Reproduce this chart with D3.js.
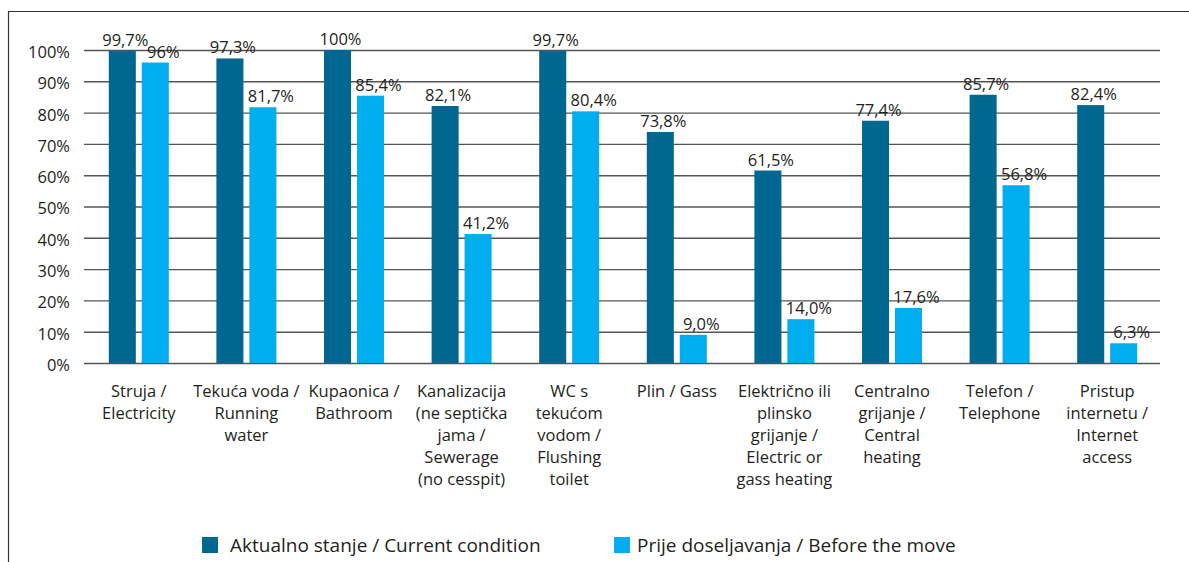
<!DOCTYPE html>
<html>
<head>
<meta charset="utf-8">
<script src="https://cdn.jsdelivr.net/npm/d3@7"></script>
<style>
    body { margin: 0; background: #fff; }
    svg text { font-family: 'Open Sans', sans-serif; fill: #231f20; }
</style>
</head>
<body>
<div></div>
<script>
const categories = [
    ['Struja /', 'Electricity'],
    ['Tekuća voda /', 'Running', 'water'],
    ['Kupaonica /', 'Bathroom'],
    ['Kanalizacija', '(ne septička', 'jama /', 'Sewerage', '(no cesspit)'],
    ['WC s', 'tekućom', 'vodom /', 'Flushing', 'toilet'],
    ['Plin / Gass'],
    ['Električno ili', 'plinsko', 'grijanje /', 'Electric or', 'gass heating'],
    ['Centralno', 'grijanje /', 'Central', 'heating'],
    ['Telefon /', 'Telephone'],
    ['Pristup', 'internetu /', 'Internet', 'access']
];
const current = [99.7, 97.3, 100, 82.1, 99.7, 73.8, 61.5, 77.4, 85.7, 82.4];
const before = [96, 81.7, 85.4, 41.2, 80.4, 9.0, 14.0, 17.6, 56.8, 6.3];
const currentLabels = ['99,7%', '97,3%', '100%', '82,1%', '99,7%', '73,8%', '61,5%', '77,4%', '85,7%', '82,4%'];
const beforeLabels = ['96%', '81,7%', '85,4%', '41,2%', '80,4%', '9,0%', '14,0%', '17,6%', '56,8%', '6,3%'];
const seriesNames = ['Aktualno stanje / Current condition', 'Prije doseljavanja / Before the move'];
const yTicks = [0, 10, 20, 30, 40, 50, 60, 70, 80, 90, 100];

document.addEventListener('DOMContentLoaded', () => {

    const w = 1189;
    const h = 562;
    const colors = ['#006890', '#00adef'];

    const svg = d3.select('div')
        .append('svg')
        .attr('width', w)
        .attr('height', h);

    // frame
    svg.append('path')
        .attr('d', 'M8.5,' + h + 'V11.5H' + w)
        .attr('fill', 'none')
        .attr('stroke', '#333')
        .attr('stroke-width', 1.2);

    const yScale = d3.scaleLinear()
        .domain([0, 100])
        .range([363, 50]);

    const xScale = d3.scaleBand()
        .domain(d3.range(categories.length))
        .range([85, 1161]);

    const xInner = d3.scaleBand()
        .domain([0, 1])
        .range([xScale.bandwidth() / 2 - 30, xScale.bandwidth() / 2 + 30])
        .paddingInner(0.18);

    // grid + y labels
    const yAxis = d3.axisLeft(yScale)
        .tickValues(yTicks)
        .tickSize(-(1160 - 84))
        .tickFormat(d => d + '%');

    const yg = svg.append('g')
        .attr('transform', 'translate(84,0)')
        .call(yAxis);
    yg.select('.domain').remove();
    yg.selectAll('line')
        .attr('stroke', '#555')
        .attr('stroke-width', 1.4);
    yg.selectAll('text')
        .attr('x', -14)
        .attr('dy', '0.45em')
        .attr('font-size', 16.5)
        .attr('font-family', "'Open Sans', sans-serif")
        .attr('fill', '#231f20');

    const series = [current, before];
    const seriesLabels = [currentLabels, beforeLabels];
    const labelShift = [3, 8];

    series.forEach((vals, s) => {
        svg.append('g')
            .selectAll('rect')
            .data(vals)
            .enter()
            .append('rect')
            .attr('x', (d, i) => xScale(i) + xInner(s))
            .attr('y', d => yScale(d))
            .attr('width', xInner.bandwidth())
            .attr('height', d => yScale(0) - yScale(d))
            .attr('fill', colors[s]);

        svg.append('g')
            .selectAll('text')
            .data(vals)
            .enter()
            .append('text')
            .attr('x', (d, i) => xScale(i) + xInner(s) + xInner.bandwidth() / 2 + labelShift[s])
            .attr('y', d => yScale(d) - 5)
            .attr('text-anchor', 'middle')
            .attr('font-size', 16.5)
            .text((d, i) => seriesLabels[s][i]);
    });

    // category labels
    const cat = svg.append('g')
        .selectAll('text')
        .data(categories)
        .enter()
        .append('text')
        .attr('text-anchor', 'middle')
        .attr('font-size', 16.5)
        .attr('transform', (d, i) => 'translate(' + (xScale(i) + xScale.bandwidth() / 2) + ',397)');

    cat.selectAll('tspan')
        .data(d => d)
        .enter()
        .append('tspan')
        .attr('x', 0)
        .attr('y', (d, i) => i * 22)
        .text(d => d);

    // legend
    const legendX = [202, 614];
    const legend = svg.append('g')
        .selectAll('g')
        .data(seriesNames)
        .enter()
        .append('g')
        .attr('transform', (d, i) => 'translate(' + legendX[i] + ',537)');

    legend.append('rect')
        .attr('width', 16)
        .attr('height', 16)
        .attr('fill', (d, i) => colors[i]);

    legend.append('text')
        .attr('x', (d, i) => i === 0 ? 28 : 23)
        .attr('y', 15)
        .attr('font-size', 19)
        .text(d => d);
});
</script>
</body>
</html>
